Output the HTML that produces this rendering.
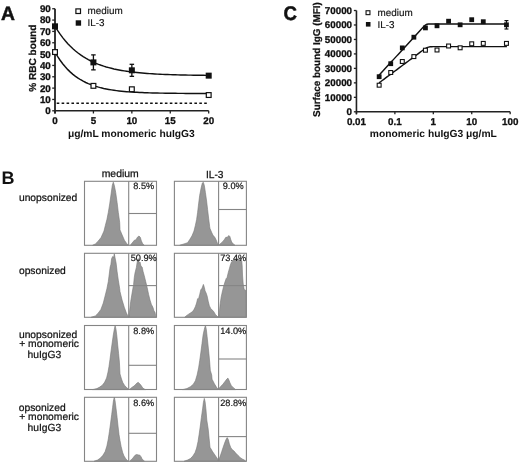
<!DOCTYPE html>
<html><head><meta charset="utf-8"><style>
html,body{margin:0;padding:0;background:#fff;}
svg{display:block;filter:blur(0.35px);}
text{font-family:"Liberation Sans", sans-serif;fill:#111;text-rendering:geometricPrecision;}
</style></head><body>
<svg width="520" height="462" viewBox="0 0 520 462">
<text transform="translate(0.90,19.70)" font-size="19.3" stroke="#111" stroke-width="0.5" font-weight="bold">A</text>
<line x1="55.0" y1="8.74" x2="55.0" y2="113.50" stroke="#222" stroke-width="1.8"/>
<line x1="52.2" y1="110.80" x2="55.0" y2="110.80" stroke="#222" stroke-width="1.3"/>
<text transform="translate(50.80,114.20)" font-size="9.8" stroke="#111" stroke-width="0.3" font-weight="bold" text-anchor="end">0</text>
<line x1="52.2" y1="99.46" x2="55.0" y2="99.46" stroke="#222" stroke-width="1.3"/>
<text transform="translate(50.80,102.86)" font-size="9.8" stroke="#111" stroke-width="0.3" font-weight="bold" text-anchor="end">10</text>
<line x1="52.2" y1="88.12" x2="55.0" y2="88.12" stroke="#222" stroke-width="1.3"/>
<text transform="translate(50.80,91.52)" font-size="9.8" stroke="#111" stroke-width="0.3" font-weight="bold" text-anchor="end">20</text>
<line x1="52.2" y1="76.78" x2="55.0" y2="76.78" stroke="#222" stroke-width="1.3"/>
<text transform="translate(50.80,80.18)" font-size="9.8" stroke="#111" stroke-width="0.3" font-weight="bold" text-anchor="end">30</text>
<line x1="52.2" y1="65.44" x2="55.0" y2="65.44" stroke="#222" stroke-width="1.3"/>
<text transform="translate(50.80,68.84)" font-size="9.8" stroke="#111" stroke-width="0.3" font-weight="bold" text-anchor="end">40</text>
<line x1="52.2" y1="54.10" x2="55.0" y2="54.10" stroke="#222" stroke-width="1.3"/>
<text transform="translate(50.80,57.50)" font-size="9.8" stroke="#111" stroke-width="0.3" font-weight="bold" text-anchor="end">50</text>
<line x1="52.2" y1="42.76" x2="55.0" y2="42.76" stroke="#222" stroke-width="1.3"/>
<text transform="translate(50.80,46.16)" font-size="9.8" stroke="#111" stroke-width="0.3" font-weight="bold" text-anchor="end">60</text>
<line x1="52.2" y1="31.42" x2="55.0" y2="31.42" stroke="#222" stroke-width="1.3"/>
<text transform="translate(50.80,34.82)" font-size="9.8" stroke="#111" stroke-width="0.3" font-weight="bold" text-anchor="end">70</text>
<line x1="52.2" y1="20.08" x2="55.0" y2="20.08" stroke="#222" stroke-width="1.3"/>
<text transform="translate(50.80,23.48)" font-size="9.8" stroke="#111" stroke-width="0.3" font-weight="bold" text-anchor="end">80</text>
<line x1="52.2" y1="8.74" x2="55.0" y2="8.74" stroke="#222" stroke-width="1.3"/>
<text transform="translate(50.80,12.14)" font-size="9.8" stroke="#111" stroke-width="0.3" font-weight="bold" text-anchor="end">90</text>
<line x1="55.0" y1="110.8" x2="208.70" y2="110.8" stroke="#222" stroke-width="1.5"/>
<line x1="55.00" y1="110.8" x2="55.00" y2="113.50" stroke="#222" stroke-width="1.3"/>
<text transform="translate(55.00,123.60)" font-size="9.8" stroke="#111" stroke-width="0.3" font-weight="bold" text-anchor="middle">0</text>
<line x1="93.42" y1="110.8" x2="93.42" y2="113.50" stroke="#222" stroke-width="1.3"/>
<text transform="translate(93.42,123.60)" font-size="9.8" stroke="#111" stroke-width="0.3" font-weight="bold" text-anchor="middle">5</text>
<line x1="131.85" y1="110.8" x2="131.85" y2="113.50" stroke="#222" stroke-width="1.3"/>
<text transform="translate(131.85,123.60)" font-size="9.8" stroke="#111" stroke-width="0.3" font-weight="bold" text-anchor="middle">10</text>
<line x1="170.27" y1="110.8" x2="170.27" y2="113.50" stroke="#222" stroke-width="1.3"/>
<text transform="translate(170.27,123.60)" font-size="9.8" stroke="#111" stroke-width="0.3" font-weight="bold" text-anchor="middle">15</text>
<line x1="208.70" y1="110.8" x2="208.70" y2="113.50" stroke="#222" stroke-width="1.3"/>
<text transform="translate(208.70,123.60)" font-size="9.8" stroke="#111" stroke-width="0.3" font-weight="bold" text-anchor="middle">20</text>
<text transform="translate(131.30,136.60)" font-size="10.25" font-weight="bold" text-anchor="middle">μg/mL monomeric huIgG3</text>
<text transform="translate(35.80,58.20) rotate(-90)" font-size="10.1" stroke="#111" stroke-width="0.25" font-weight="bold" text-anchor="middle">% RBC bound</text>
<line x1="56.7" y1="103.2" x2="206.8" y2="103.2" stroke="#111" stroke-width="1.45" stroke-dasharray="2.6 2.317"/>
<path d="M55.00,26.32 L57.56,30.41 L60.12,34.17 L62.69,37.61 L65.25,40.77 L67.81,43.66 L70.37,46.32 L72.93,48.75 L75.49,50.99 L78.06,53.03 L80.62,54.91 L83.18,56.63 L85.74,58.21 L88.30,59.66 L90.86,60.99 L93.42,62.20 L95.99,63.32 L98.55,64.34 L101.11,65.28 L103.67,66.14 L106.23,66.93 L108.79,67.65 L111.36,68.32 L113.92,68.93 L116.48,69.48 L119.04,69.99 L121.60,70.46 L124.16,70.89 L126.73,71.29 L129.29,71.65 L131.85,71.98 L134.41,72.29 L136.97,72.57 L139.53,72.82 L142.10,73.06 L144.66,73.27 L147.22,73.47 L149.78,73.65 L152.34,73.81 L154.91,73.97 L157.47,74.11 L160.03,74.23 L162.59,74.35 L165.15,74.46 L167.71,74.56 L170.27,74.65 L172.84,74.73 L175.40,74.81 L177.96,74.88 L180.52,74.94 L183.08,75.00 L185.64,75.05 L188.21,75.10 L190.77,75.15 L193.33,75.19 L195.89,75.23 L198.45,75.26 L201.01,75.29 L203.58,75.32 L206.14,75.35 L208.70,75.37" fill="none" stroke="#111" stroke-width="1.45"/>
<path d="M55.00,52.06 L57.56,56.38 L60.12,60.26 L62.69,63.72 L65.25,66.83 L67.81,69.62 L70.37,72.11 L72.93,74.35 L75.49,76.35 L78.06,78.14 L80.62,79.75 L83.18,81.19 L85.74,82.48 L88.30,83.63 L90.86,84.67 L93.42,85.59 L95.99,86.42 L98.55,87.17 L101.11,87.83 L103.67,88.43 L106.23,88.96 L108.79,89.44 L111.36,89.87 L113.92,90.26 L116.48,90.60 L119.04,90.91 L121.60,91.19 L124.16,91.43 L126.73,91.66 L129.29,91.85 L131.85,92.03 L134.41,92.19 L136.97,92.33 L139.53,92.46 L142.10,92.58 L144.66,92.68 L147.22,92.77 L149.78,92.85 L152.34,92.93 L154.91,92.99 L157.47,93.05 L160.03,93.11 L162.59,93.15 L165.15,93.20 L167.71,93.24 L170.27,93.27 L172.84,93.30 L175.40,93.33 L177.96,93.35 L180.52,93.37 L183.08,93.39 L185.64,93.41 L188.21,93.43 L190.77,93.44 L193.33,93.45 L195.89,93.47 L198.45,93.48 L201.01,93.48 L203.58,93.49 L206.14,93.50 L208.70,93.51" fill="none" stroke="#111" stroke-width="1.45"/>
<line x1="93.42" y1="54.89" x2="93.42" y2="69.86" stroke="#111" stroke-width="1.3"/>
<line x1="91.17" y1="54.89" x2="95.67" y2="54.89" stroke="#111" stroke-width="1.3"/>
<line x1="91.17" y1="69.86" x2="95.67" y2="69.86" stroke="#111" stroke-width="1.3"/>
<line x1="131.85" y1="64.31" x2="131.85" y2="76.33" stroke="#111" stroke-width="1.3"/>
<line x1="129.60" y1="64.31" x2="134.10" y2="64.31" stroke="#111" stroke-width="1.3"/>
<line x1="129.60" y1="76.33" x2="134.10" y2="76.33" stroke="#111" stroke-width="1.3"/>
<rect x="52.00" y="23.32" width="6" height="6" fill="#111"/>
<rect x="90.42" y="59.38" width="6" height="6" fill="#111"/>
<rect x="128.85" y="67.32" width="6" height="6" fill="#111"/>
<rect x="205.70" y="72.65" width="6" height="6" fill="#111"/>
<rect x="52.60" y="49.66" width="4.80" height="4.80" fill="#fff" stroke="#111" stroke-width="1.2"/>
<rect x="91.02" y="83.45" width="4.80" height="4.80" fill="#fff" stroke="#111" stroke-width="1.2"/>
<rect x="129.45" y="86.85" width="4.80" height="4.80" fill="#fff" stroke="#111" stroke-width="1.2"/>
<rect x="206.30" y="92.64" width="4.80" height="4.80" fill="#fff" stroke="#111" stroke-width="1.2"/>
<rect x="75.90" y="8.90" width="4.60" height="4.60" fill="#fff" stroke="#111" stroke-width="1.2"/>
<rect x="75.70" y="20.30" width="5.4" height="5.4" fill="#111"/>
<text transform="translate(87.60,14.40)" font-size="9.9" stroke="#111" stroke-width="0.15">medium</text>
<text transform="translate(87.60,25.80)" font-size="9.9" stroke="#111" stroke-width="0.15">IL-3</text>
<text transform="translate(283.40,19.80) scale(0.95,1)" font-size="19.6" stroke="#111" stroke-width="0.5" font-weight="bold">C</text>
<line x1="356.45" y1="10.51" x2="356.45" y2="114.30" stroke="#222" stroke-width="1.6"/>
<line x1="353.84999999999997" y1="111.80" x2="356.45" y2="111.80" stroke="#222" stroke-width="1.3"/>
<text transform="translate(352.05,115.20)" font-size="9.8" stroke="#111" stroke-width="0.3" font-weight="bold" text-anchor="end">0</text>
<line x1="353.84999999999997" y1="97.33" x2="356.45" y2="97.33" stroke="#222" stroke-width="1.3"/>
<text transform="translate(352.05,100.73)" font-size="9.8" stroke="#111" stroke-width="0.3" font-weight="bold" text-anchor="end">10000</text>
<line x1="353.84999999999997" y1="82.86" x2="356.45" y2="82.86" stroke="#222" stroke-width="1.3"/>
<text transform="translate(352.05,86.26)" font-size="9.8" stroke="#111" stroke-width="0.3" font-weight="bold" text-anchor="end">20000</text>
<line x1="353.84999999999997" y1="68.39" x2="356.45" y2="68.39" stroke="#222" stroke-width="1.3"/>
<text transform="translate(352.05,71.79)" font-size="9.8" stroke="#111" stroke-width="0.3" font-weight="bold" text-anchor="end">30000</text>
<line x1="353.84999999999997" y1="53.92" x2="356.45" y2="53.92" stroke="#222" stroke-width="1.3"/>
<text transform="translate(352.05,57.32)" font-size="9.8" stroke="#111" stroke-width="0.3" font-weight="bold" text-anchor="end">40000</text>
<line x1="353.84999999999997" y1="39.45" x2="356.45" y2="39.45" stroke="#222" stroke-width="1.3"/>
<text transform="translate(352.05,42.85)" font-size="9.8" stroke="#111" stroke-width="0.3" font-weight="bold" text-anchor="end">50000</text>
<line x1="353.84999999999997" y1="24.98" x2="356.45" y2="24.98" stroke="#222" stroke-width="1.3"/>
<text transform="translate(352.05,28.38)" font-size="9.8" stroke="#111" stroke-width="0.3" font-weight="bold" text-anchor="end">60000</text>
<line x1="353.84999999999997" y1="10.51" x2="356.45" y2="10.51" stroke="#222" stroke-width="1.3"/>
<text transform="translate(352.05,13.91)" font-size="9.8" stroke="#111" stroke-width="0.3" font-weight="bold" text-anchor="end">70000</text>
<line x1="356.45" y1="111.8" x2="510.17" y2="111.8" stroke="#222" stroke-width="1.5"/>
<line x1="356.45" y1="111.8" x2="356.45" y2="114.30" stroke="#222" stroke-width="1.3"/>
<text transform="translate(356.45,124.80)" font-size="9.8" stroke="#111" stroke-width="0.3" font-weight="bold" text-anchor="middle">0.01</text>
<line x1="394.88" y1="111.8" x2="394.88" y2="114.30" stroke="#222" stroke-width="1.3"/>
<text transform="translate(394.88,124.80)" font-size="9.8" stroke="#111" stroke-width="0.3" font-weight="bold" text-anchor="middle">0.1</text>
<line x1="433.31" y1="111.8" x2="433.31" y2="114.30" stroke="#222" stroke-width="1.3"/>
<text transform="translate(433.31,124.80)" font-size="9.8" stroke="#111" stroke-width="0.3" font-weight="bold" text-anchor="middle">1</text>
<line x1="471.74" y1="111.8" x2="471.74" y2="114.30" stroke="#222" stroke-width="1.3"/>
<text transform="translate(471.74,124.80)" font-size="9.8" stroke="#111" stroke-width="0.3" font-weight="bold" text-anchor="middle">10</text>
<line x1="510.17" y1="111.8" x2="510.17" y2="114.30" stroke="#222" stroke-width="1.3"/>
<text transform="translate(510.17,124.80)" font-size="9.8" stroke="#111" stroke-width="0.3" font-weight="bold" text-anchor="middle">100</text>
<text transform="translate(433.30,136.60)" font-size="10.25" font-weight="bold" text-anchor="middle">monomeric huIgG3 μg/mL</text>
<text transform="translate(319.50,59.60) rotate(-90)" font-size="9.9" stroke="#111" stroke-width="0.25" font-weight="bold" text-anchor="middle">Surface bound IgG (MFI)</text>
<path d="M379.00,75.30 L380.60,73.56 L382.20,71.81 L383.80,70.07 L385.39,68.33 L386.99,66.59 L388.59,64.84 L390.19,63.10 L391.79,61.36 L393.39,59.62 L394.99,57.87 L396.59,56.13 L398.19,54.39 L399.78,52.65 L401.38,50.90 L402.98,49.16 L404.58,47.42 L406.18,45.68 L407.78,43.93 L409.38,42.19 L410.98,40.45 L412.57,38.70 L414.17,36.96 L415.77,35.22 L417.37,33.48 L418.97,31.73 L420.57,29.99 L422.17,28.26 L423.76,26.58 L425.36,25.15 L426.96,24.32 L428.56,24.06 L430.16,24.01 L431.76,24.00 L433.36,24.00 L434.96,24.00 L436.56,24.00 L438.15,24.00 L439.75,24.00 L441.35,24.00 L442.95,24.00 L444.55,24.00 L446.15,24.00 L447.75,24.00 L449.34,24.00 L450.94,24.00 L452.54,24.00 L454.14,24.00 L455.74,24.00 L457.34,24.00 L458.94,24.00 L460.54,24.00 L462.13,24.00 L463.73,24.00 L465.33,24.00 L466.93,24.00 L468.53,24.00 L470.13,24.00 L471.73,24.00 L473.33,24.00 L474.92,24.00 L476.52,24.00 L478.12,24.00 L479.72,24.00 L481.32,24.00 L482.92,24.00 L484.52,24.00 L486.12,24.00 L487.71,24.00 L489.31,24.00 L490.91,24.00 L492.51,24.00 L494.11,24.00 L495.71,24.00 L497.31,24.00 L498.91,24.00 L500.50,24.00 L502.10,24.00 L503.70,24.00 L505.30,24.00 L506.90,24.00" fill="none" stroke="#111" stroke-width="1.45"/>
<path d="M379.00,82.90 L380.60,81.71 L382.20,80.52 L383.80,79.33 L385.39,78.14 L386.99,76.94 L388.59,75.75 L390.19,74.56 L391.79,73.37 L393.39,72.18 L394.99,70.99 L396.59,69.80 L398.19,68.61 L399.78,67.42 L401.38,66.23 L402.98,65.03 L404.58,63.84 L406.18,62.65 L407.78,61.46 L409.38,60.27 L410.98,59.08 L412.57,57.89 L414.17,56.70 L415.77,55.51 L417.37,54.32 L418.97,53.13 L420.57,51.94 L422.17,50.77 L423.76,49.62 L425.36,48.56 L426.96,47.68 L428.56,47.09 L430.16,46.79 L431.76,46.67 L433.36,46.62 L434.96,46.61 L436.56,46.60 L438.15,46.60 L439.75,46.60 L441.35,46.60 L442.95,46.60 L444.55,46.60 L446.15,46.60 L447.75,46.60 L449.34,46.60 L450.94,46.60 L452.54,46.60 L454.14,46.60 L455.74,46.60 L457.34,46.60 L458.94,46.60 L460.54,46.60 L462.13,46.60 L463.73,46.60 L465.33,46.60 L466.93,46.60 L468.53,46.60 L470.13,46.60 L471.73,46.60 L473.33,46.60 L474.92,46.60 L476.52,46.60 L478.12,46.60 L479.72,46.60 L481.32,46.60 L482.92,46.60 L484.52,46.60 L486.12,46.60 L487.71,46.60 L489.31,46.60 L490.91,46.60 L492.51,46.60 L494.11,46.60 L495.71,46.60 L497.31,46.60 L498.91,46.60 L500.50,46.60 L502.10,46.60 L503.70,46.60 L505.30,46.60 L506.90,46.60" fill="none" stroke="#111" stroke-width="1.45"/>
<line x1="506.45" y1="20.6" x2="506.45" y2="29" stroke="#111" stroke-width="1.2"/>
<line x1="504.45" y1="20.6" x2="508.45" y2="20.6" stroke="#111" stroke-width="1.2"/>
<line x1="504.45" y1="29" x2="508.45" y2="29" stroke="#111" stroke-width="1.2"/>
<rect x="376.76" y="74.30" width="4.8" height="4.8" fill="#111"/>
<rect x="388.33" y="61.30" width="4.8" height="4.8" fill="#111"/>
<rect x="399.90" y="45.50" width="4.8" height="4.8" fill="#111"/>
<rect x="411.47" y="34.80" width="4.8" height="4.8" fill="#111"/>
<rect x="423.04" y="25.50" width="4.8" height="4.8" fill="#111"/>
<rect x="434.61" y="23.40" width="4.8" height="4.8" fill="#111"/>
<rect x="446.18" y="18.80" width="4.8" height="4.8" fill="#111"/>
<rect x="457.74" y="22.40" width="4.8" height="4.8" fill="#111"/>
<rect x="469.31" y="17.30" width="4.8" height="4.8" fill="#111"/>
<rect x="480.88" y="19.30" width="4.8" height="4.8" fill="#111"/>
<rect x="504.05" y="22.40" width="4.8" height="4.8" fill="#111"/>
<rect x="377.21" y="83.25" width="3.90" height="3.90" fill="#fff" stroke="#111" stroke-width="1.1"/>
<rect x="388.78" y="70.55" width="3.90" height="3.90" fill="#fff" stroke="#111" stroke-width="1.1"/>
<rect x="400.35" y="59.55" width="3.90" height="3.90" fill="#fff" stroke="#111" stroke-width="1.1"/>
<rect x="411.92" y="54.65" width="3.90" height="3.90" fill="#fff" stroke="#111" stroke-width="1.1"/>
<rect x="423.49" y="48.25" width="3.90" height="3.90" fill="#fff" stroke="#111" stroke-width="1.1"/>
<rect x="435.06" y="48.05" width="3.90" height="3.90" fill="#fff" stroke="#111" stroke-width="1.1"/>
<rect x="446.63" y="44.05" width="3.90" height="3.90" fill="#fff" stroke="#111" stroke-width="1.1"/>
<rect x="458.19" y="45.85" width="3.90" height="3.90" fill="#fff" stroke="#111" stroke-width="1.1"/>
<rect x="469.76" y="41.85" width="3.90" height="3.90" fill="#fff" stroke="#111" stroke-width="1.1"/>
<rect x="481.33" y="41.45" width="3.90" height="3.90" fill="#fff" stroke="#111" stroke-width="1.1"/>
<rect x="504.50" y="41.45" width="3.90" height="3.90" fill="#fff" stroke="#111" stroke-width="1.1"/>
<rect x="366.05" y="10.75" width="3.90" height="3.90" fill="#fff" stroke="#111" stroke-width="1.1"/>
<rect x="365.90" y="22.00" width="4.6" height="4.6" fill="#111"/>
<text transform="translate(377.60,15.80)" font-size="9.9" stroke="#111" stroke-width="0.15">medium</text>
<text transform="translate(377.60,27.60)" font-size="9.9" stroke="#111" stroke-width="0.15">IL-3</text>
<text x="1.5" y="183.9" font-size="18" font-weight="bold">B</text>
<text transform="translate(120.20,177.30)" font-size="10.4" stroke="#111" stroke-width="0.25" text-anchor="middle">medium</text>
<text transform="translate(214.70,177.60)" font-size="10.2" stroke="#111" stroke-width="0.25" text-anchor="middle">IL-3</text>
<text transform="translate(18.90,200.50)" font-size="10.3" stroke="#111" stroke-width="0.22" fill="#111">unopsonized</text>
<text transform="translate(18.90,273.90)" font-size="10.3" stroke="#111" stroke-width="0.22" fill="#111">opsonized</text>
<text transform="translate(18.90,337.70)" font-size="10.3" stroke="#111" stroke-width="0.22" fill="#111">unopsonized</text>
<text transform="translate(19.20,346.80)" font-size="10.3" stroke="#111" stroke-width="0.22" fill="#111">+ monomeric</text>
<text transform="translate(27.50,357.90)" font-size="10.3" stroke="#111" stroke-width="0.22" fill="#111">huIgG3</text>
<text transform="translate(18.70,410.70)" font-size="10.3" stroke="#111" stroke-width="0.22" fill="#111">opsonized</text>
<text transform="translate(19.20,419.80)" font-size="10.3" stroke="#111" stroke-width="0.22" fill="#111">+ monomeric</text>
<text transform="translate(27.50,431.10)" font-size="10.3" stroke="#111" stroke-width="0.22" fill="#111">huIgG3</text>
<path d="M92.6,245.3 L95.4,243.9 L98.3,241.0 L101.1,237.4 L104.0,231.0 L105.4,225.3 L106.9,219.6 L108.3,212.4 L109.7,203.9 L111.1,193.9 L112.3,185.3 L113.3,182.2 L114.3,185.3 L115.7,192.4 L117.1,202.4 L118.3,212.4 L119.7,222.4 L120.0,229.9 L122.2,235.1 L124.4,240.2 L127.0,243.9 L128.3,245.3 Z" fill="#969696" stroke="#777" stroke-width="0.6" stroke-linejoin="round"/>
<path d="M130.7,245.3 L130.7,244.7 L132.9,242.1 L134.4,240.2 L135.8,239.9 L137.7,236.9 L139.0,236.0 L140.3,237.3 L141.4,241.0 L142.8,243.9 L144.3,245.3 Z" fill="#969696" stroke="#777" stroke-width="0.6" stroke-linejoin="round"/>
<path d="M179.7,245.3 L184.0,243.9 L187.6,242.7 L189.7,239.6 L191.9,236.0 L194.0,231.0 L195.4,225.3 L196.6,219.6 L197.6,212.4 L198.6,203.9 L199.7,195.3 L201.1,188.1 L202.3,183.1 L203.3,182.2 L204.3,185.3 L205.4,192.4 L206.6,201.0 L207.6,209.6 L208.6,218.1 L209.7,226.7 L210.0,228.5 L211.5,232.1 L212.9,235.1 L214.8,237.3 L216.3,240.2 L217.4,243.2 L218.3,245.3 Z" fill="#969696" stroke="#777" stroke-width="0.6" stroke-linejoin="round"/>
<path d="M219.2,245.3 L219.2,244.7 L221.0,243.2 L222.9,241.4 L224.4,239.5 L225.8,237.3 L227.3,237.3 L228.8,235.5 L229.9,236.6 L230.6,239.1 L231.7,242.1 L233.6,244.3 L235.0,245.3 Z" fill="#969696" stroke="#777" stroke-width="0.6" stroke-linejoin="round"/>
<path d="M91.1,317.3 L95.4,315.9 L98.3,313.0 L100.9,309.4 L103.3,303.0 L105.1,295.9 L106.9,288.7 L108.3,281.6 L109.4,273.0 L110.1,267.3 L110.9,264.4 L111.6,258.7 L112.6,256.6 L113.6,257.3 L114.3,253.7 L115.1,258.0 L116.1,263.0 L117.1,271.6 L118.3,280.1 L119.7,288.7 L120.0,291.6 L122.1,300.1 L124.3,307.3 L126.4,313.0 L127.9,315.9 L128.6,317.3 Z" fill="#969696" stroke="#777" stroke-width="0.6" stroke-linejoin="round"/>
<path d="M128.7,317.3 L128.9,316.6 L129.7,310.1 L130.7,301.6 L132.1,293.0 L133.6,284.4 L134.3,277.3 L135.0,273.0 L136.4,267.3 L137.1,262.5 L137.6,259.5 L138.1,261.5 L138.6,258.6 L139.0,263.4 L140.0,262.0 L141.0,266.3 L142.1,267.0 L143.1,271.6 L144.3,275.9 L145.7,281.6 L147.1,287.3 L148.6,294.4 L150.0,300.1 L151.4,304.4 L152.9,307.3 L154.0,310.9 L155.0,312.3 L155.7,315.9 L155.9,317.3 Z" fill="#969696" stroke="#777" stroke-width="0.6" stroke-linejoin="round"/>
<path d="M184.7,317.3 L186.1,315.9 L188.3,314.4 L190.4,313.0 L192.6,311.6 L194.0,309.4 L195.4,306.6 L196.6,303.0 L197.6,298.7 L198.6,298.7 L199.7,294.4 L200.9,289.4 L201.9,288.7 L202.6,286.6 L203.4,284.4 L204.3,287.3 L205.1,290.9 L206.1,293.0 L207.1,295.9 L208.3,301.6 L209.4,305.9 L210.9,308.7 L212.3,310.1 L213.7,311.6 L215.4,314.4 L216.9,315.9 L218.3,317.3 Z" fill="#969696" stroke="#777" stroke-width="0.6" stroke-linejoin="round"/>
<path d="M218.7,317.3 L218.9,315.9 L219.5,310.8 L220.2,303.8 L221.2,296.9 L222.5,290.9 L223.8,285.7 L225.2,281.3 L226.2,278.5 L227.1,277.5 L228.2,272.8 L229.3,268.9 L230.4,264.9 L231.5,262.0 L233.3,260.2 L235.0,259.5 L236.5,259.8 L238.0,259.2 L239.5,259.6 L241.0,259.8 L241.8,261.0 L242.2,266.0 L242.5,275.0 L243.2,284.0 L244.2,289.5 L245.9,290.5 L245.9,317.3 Z" fill="#969696" stroke="#777" stroke-width="0.6" stroke-linejoin="round"/>
<path d="M92.6,389.6 L96.9,388.6 L99.7,387.1 L102.6,385.0 L104.7,382.1 L106.6,377.9 L108.0,372.1 L109.0,366.4 L110.0,359.3 L111.1,350.7 L112.3,342.1 L113.3,335.0 L114.3,329.3 L115.1,325.5 L116.0,329.3 L116.9,336.4 L117.7,345.0 L118.6,353.6 L119.4,362.1 L120.0,373.9 L121.5,379.1 L122.9,382.8 L124.8,385.7 L126.6,387.6 L128.1,388.8 L128.5,389.6 Z" fill="#969696" stroke="#777" stroke-width="0.6" stroke-linejoin="round"/>
<path d="M130.3,389.6 L130.3,388.7 L132.2,387.2 L134.0,386.1 L135.8,384.2 L137.3,382.8 L138.4,382.4 L139.5,383.5 L141.0,385.3 L142.5,387.6 L143.9,388.8 L145.4,389.6 Z" fill="#969696" stroke="#777" stroke-width="0.6" stroke-linejoin="round"/>
<path d="M182.6,389.6 L186.9,388.6 L190.4,386.7 L193.3,384.3 L195.4,380.7 L197.1,375.0 L198.6,367.9 L199.7,360.7 L200.9,352.1 L202.0,343.6 L203.1,335.0 L204.3,329.3 L205.4,325.5 L206.3,329.3 L207.1,336.4 L208.0,345.0 L208.9,353.6 L209.7,362.1 L210.3,370.3 L211.7,375.0 L212.1,379.3 L214.3,383.6 L216.4,387.1 L217.9,389.0 L218.3,389.6 Z" fill="#969696" stroke="#777" stroke-width="0.6" stroke-linejoin="round"/>
<path d="M218.7,389.6 L218.9,388.6 L220.7,386.4 L222.9,384.3 L225.0,381.4 L226.9,379.0 L227.9,378.1 L228.9,380.0 L230.0,382.9 L231.4,385.7 L233.6,387.9 L235.7,389.6 Z" fill="#969696" stroke="#777" stroke-width="0.6" stroke-linejoin="round"/>
<path d="M94.0,461.3 L97.6,460.0 L100.4,458.1 L102.9,455.3 L105.1,451.7 L106.9,446.0 L108.3,438.9 L109.4,431.7 L110.6,423.1 L111.7,414.6 L112.6,407.4 L113.4,401.0 L114.3,397.1 L115.1,401.0 L116.1,408.9 L117.1,417.4 L118.0,426.0 L119.0,434.6 L120.0,440.5 L121.1,446.4 L122.6,452.3 L124.0,456.0 L125.9,458.9 L127.4,460.4 L128.3,461.3 Z" fill="#969696" stroke="#777" stroke-width="0.6" stroke-linejoin="round"/>
<path d="M130.3,461.3 L130.3,460.4 L132.2,458.9 L133.6,457.1 L135.1,455.2 L136.6,454.5 L138.4,454.9 L139.9,455.2 L141.0,456.7 L142.1,458.9 L143.6,460.4 L144.5,461.3 Z" fill="#969696" stroke="#777" stroke-width="0.6" stroke-linejoin="round"/>
<path d="M184.0,461.3 L187.6,460.0 L190.4,458.6 L192.9,456.0 L195.1,452.4 L196.6,448.1 L198.0,441.7 L199.1,434.6 L200.3,426.0 L201.4,417.4 L202.6,408.9 L203.4,402.4 L204.3,398.4 L205.1,401.7 L206.0,410.0 L206.8,420.0 L208.2,429.1 L209.1,438.2 L210.0,447.3 L212.7,451.8 L215.9,456.4 L217.7,459.1 L218.3,461.3 Z" fill="#969696" stroke="#777" stroke-width="0.6" stroke-linejoin="round"/>
<path d="M218.7,461.3 L218.9,459.6 L220.3,456.0 L221.7,451.7 L223.1,447.4 L224.6,443.1 L226.0,439.6 L227.2,437.6 L228.3,439.6 L229.4,443.9 L230.7,447.4 L232.1,449.6 L234.0,451.0 L235.7,453.1 L237.9,455.3 L240.0,457.4 L242.1,458.9 L244.3,460.0 L245.9,461.3 Z" fill="#969696" stroke="#777" stroke-width="0.6" stroke-linejoin="round"/>
<rect x="84.50" y="181.30" width="72.0" height="64.0" fill="none" stroke="#858585" stroke-width="1.1"/>
<line x1="128.70" y1="181.30" x2="128.70" y2="245.30" stroke="#858585" stroke-width="1.1"/>
<line x1="128.70" y1="213.50" x2="156.50" y2="213.50" stroke="#858585" stroke-width="1.1"/>
<text transform="translate(143.70,189.20)" font-size="9.2" stroke="#1a1a1a" stroke-width="0.2" text-anchor="middle" fill="#1a1a1a">8.5%</text>
<rect x="174.40" y="181.30" width="72.0" height="64.0" fill="none" stroke="#858585" stroke-width="1.1"/>
<line x1="218.60" y1="181.30" x2="218.60" y2="245.30" stroke="#858585" stroke-width="1.1"/>
<line x1="218.60" y1="209.50" x2="246.40" y2="209.50" stroke="#858585" stroke-width="1.1"/>
<text transform="translate(233.20,189.20)" font-size="9.2" stroke="#1a1a1a" stroke-width="0.2" text-anchor="middle" fill="#1a1a1a">9.0%</text>
<rect x="84.50" y="253.30" width="72.0" height="64.0" fill="none" stroke="#858585" stroke-width="1.1"/>
<line x1="128.70" y1="253.30" x2="128.70" y2="317.30" stroke="#858585" stroke-width="1.1"/>
<line x1="128.70" y1="285.60" x2="156.50" y2="285.60" stroke="#858585" stroke-width="1.1"/>
<text transform="translate(143.70,261.10)" font-size="9.2" stroke="#1a1a1a" stroke-width="0.2" text-anchor="middle" fill="#1a1a1a">50.9%</text>
<rect x="174.40" y="253.30" width="72.0" height="64.0" fill="none" stroke="#858585" stroke-width="1.1"/>
<line x1="218.60" y1="253.30" x2="218.60" y2="317.30" stroke="#858585" stroke-width="1.1"/>
<line x1="218.60" y1="285.60" x2="246.40" y2="285.60" stroke="#858585" stroke-width="1.1"/>
<text transform="translate(233.20,261.10)" font-size="9.2" stroke="#1a1a1a" stroke-width="0.2" text-anchor="middle" fill="#1a1a1a">73.4%</text>
<rect x="84.50" y="325.50" width="72.0" height="64.0" fill="none" stroke="#858585" stroke-width="1.1"/>
<line x1="128.70" y1="325.50" x2="128.70" y2="389.50" stroke="#858585" stroke-width="1.1"/>
<line x1="128.70" y1="365.30" x2="156.50" y2="365.30" stroke="#858585" stroke-width="1.1"/>
<text transform="translate(143.70,334.20)" font-size="9.2" stroke="#1a1a1a" stroke-width="0.2" text-anchor="middle" fill="#1a1a1a">8.8%</text>
<rect x="174.40" y="325.50" width="72.0" height="64.0" fill="none" stroke="#858585" stroke-width="1.1"/>
<line x1="218.60" y1="325.50" x2="218.60" y2="389.50" stroke="#858585" stroke-width="1.1"/>
<line x1="218.60" y1="359.00" x2="246.40" y2="359.00" stroke="#858585" stroke-width="1.1"/>
<text transform="translate(233.20,334.20)" font-size="9.2" stroke="#1a1a1a" stroke-width="0.2" text-anchor="middle" fill="#1a1a1a">14.0%</text>
<rect x="84.50" y="397.30" width="72.0" height="64.0" fill="none" stroke="#858585" stroke-width="1.1"/>
<line x1="128.70" y1="397.30" x2="128.70" y2="461.30" stroke="#858585" stroke-width="1.1"/>
<line x1="128.70" y1="433.30" x2="156.50" y2="433.30" stroke="#858585" stroke-width="1.1"/>
<text transform="translate(143.70,405.80)" font-size="9.2" stroke="#1a1a1a" stroke-width="0.2" text-anchor="middle" fill="#1a1a1a">8.6%</text>
<rect x="174.40" y="397.30" width="72.0" height="64.0" fill="none" stroke="#858585" stroke-width="1.1"/>
<line x1="218.60" y1="397.30" x2="218.60" y2="461.30" stroke="#858585" stroke-width="1.1"/>
<line x1="218.60" y1="436.60" x2="246.40" y2="436.60" stroke="#858585" stroke-width="1.1"/>
<text transform="translate(233.20,405.80)" font-size="9.2" stroke="#1a1a1a" stroke-width="0.2" text-anchor="middle" fill="#1a1a1a">28.8%</text>
</svg>
</body></html>
